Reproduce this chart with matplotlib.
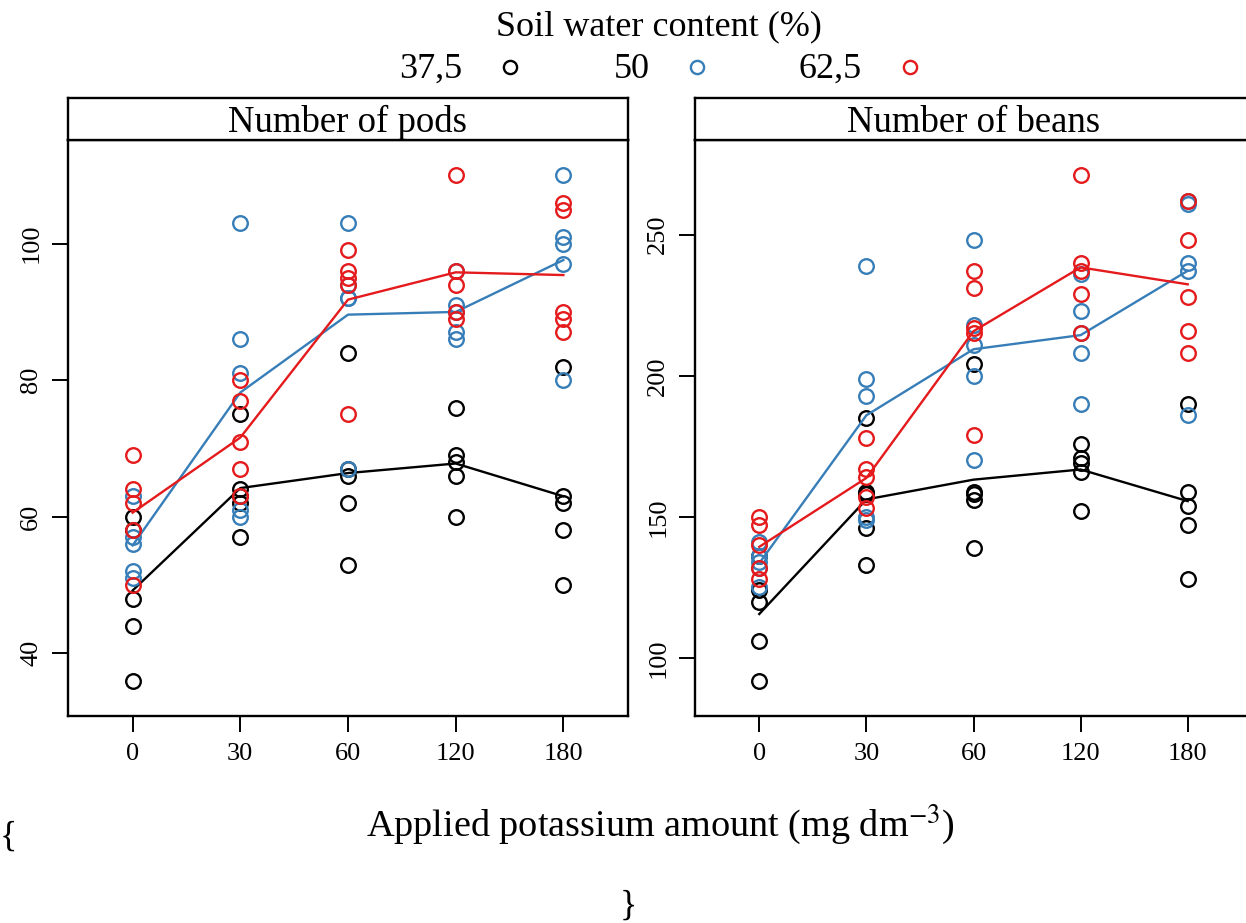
import numpy as np
import matplotlib
matplotlib.use("Agg")
import matplotlib.pyplot as plt
from matplotlib.lines import Line2D

plt.rcParams['font.family'] = ['Liberation Serif', 'DejaVu Serif']
plt.rcParams['mathtext.fontset'] = 'stix'

# applied potassium (categorical x) and soil water levels
potassium = ["0", "30", "60", "120", "180"]
water_levels = ["37,5", "50", "62,5"]
colors = ["#000000", "#377EB8", "#E41A1C"]

# number of pods, one row per potassium level, 5 replicates each
pods_375 = [[60, 58, 48, 44, 36],
            [75, 64, 63, 62, 57],
            [84, 67, 66, 62, 53],
            [76, 69, 68, 66, 60],
            [82, 63, 62, 58, 50]]
pods_50 = [[63, 57, 56, 52, 51],
           [103, 86, 81, 61, 60],
           [103, 94, 92, 92, 67],
           [96, 91, 90, 87, 86],
           [110, 101, 100, 97, 80]]
pods_625 = [[69, 64, 62, 58, 50],
            [80, 77, 71, 67, 63],
            [99, 96, 95, 94, 75],
            [110, 96, 94, 90, 89],
            [106, 105, 90, 89, 87]]

# number of beans
beans_375 = [[136, 124, 120, 106, 92],
             [185, 159, 158, 146, 133],
             [204, 159, 158, 156, 139],
             [176, 171, 169, 166, 152],
             [190, 159, 154, 147, 128]]
beans_50 = [[141, 136, 134, 132, 125],
            [239, 199, 193, 150, 149],
            [248, 218, 211, 200, 170],
            [236, 223, 215, 208, 190],
            [262, 261, 240, 237, 186]]
beans_625 = [[150, 147, 140, 132, 128],
             [178, 167, 164, 157, 153],
             [237, 231, 217, 215, 179],
             [271, 240, 237, 229, 215],
             [262, 248, 228, 216, 208]]

pods_ticks = [40, 60, 80, 100]
beans_ticks = [100, 150, 200, 250]

W, H = 1246, 923


def px_rect(x0, y0, x1, y1):
    # pixel box (top-left origin) -> figure fraction rect
    return [x0 / W, 1 - y1 / H, (x1 - x0) / W, (y1 - y0) / H]


def draw_panel(fig, x0, x1, title, groups, yticks):
    ax = fig.add_axes(px_rect(x0, 140, x1, 716))
    pos = np.arange(1, len(potassium) + 1)
    allv = []
    for vals, col in zip(groups, colors):
        vals = np.array(vals, dtype=float)
        allv.append(vals)
        for i in range(len(pos)):
            ax.plot(np.full(vals.shape[1], pos[i]), vals[i], 'o', ls='none',
                    mfc='none', mec=col, ms=10.5, mew=1.7, clip_on=False)
        # lattice type "a": line through the group means
        ax.plot(pos, vals.mean(axis=1), color=col, lw=1.7)
    allv = np.concatenate([a.ravel() for a in allv])
    lo, hi = allv.min(), allv.max()
    pad = 0.07 * (hi - lo)
    ax.set_ylim(lo - pad, hi + pad)
    ax.set_xlim(0.4, len(pos) + 0.6)
    ax.set_xticks(pos)
    ax.set_xticklabels(potassium)
    ax.set_yticks(yticks)
    ax.set_yticklabels([str(t) for t in yticks], rotation=90, va='center')
    ax.tick_params(axis='x', direction='out', length=11.5, width=1.4, pad=8, labelsize=19)
    ax.tick_params(axis='y', direction='out', length=11.5, width=1.4, pad=7, labelsize=19)
    for s in ax.spines.values():
        s.set_linewidth(1.7)

    strip = fig.add_axes(px_rect(x0, 98, x1, 140))
    strip.set_xticks([])
    strip.set_yticks([])
    for s in strip.spines.values():
        s.set_linewidth(1.7)
    strip.text(0.5, 0.42, title, ha='center', va='center', fontsize=26.5,
               transform=strip.transAxes)
    return ax


def main():
    fig = plt.figure(figsize=(W / 100, H / 100), dpi=100)

    draw_panel(fig, 68, 628, "Number of pods",
               [pods_375, pods_50, pods_625], pods_ticks)
    draw_panel(fig, 695, 1252, "Number of beans",
               [beans_375, beans_50, beans_625], beans_ticks)

    fig.text(659 / W, 1 - 27 / H, "Soil water content (%)", ha='center',
             va='center', fontsize=26)
    label_x = [462, 650, 862]
    mark_x = [510, 697, 910]
    for lab, lx, mx, col in zip(water_levels, label_x, mark_x, colors):
        fig.text(lx / W, 1 - 69 / H, lab, ha='right', va='center', fontsize=26)
        fig.add_artist(Line2D([mx / W], [1 - 67 / H], marker='o', ls='none',
                              mfc='none', mec=col, ms=9.5, mew=1.7,
                              transform=fig.transFigure))

    fig.text(660 / W, 1 - 824 / H, r"Applied potassium amount (mg dm$^{-3}$)",
             ha='center', va='center', fontsize=27.5)
    fig.text(8 / W, 1 - 837 / H, "{", ha='center', va='center', fontsize=26)
    fig.text(628 / W, 1 - 906 / H, "}", ha='center', va='center', fontsize=26)

    fig.savefig("out.png", dpi=100)


if __name__ == "__main__":
    main()
